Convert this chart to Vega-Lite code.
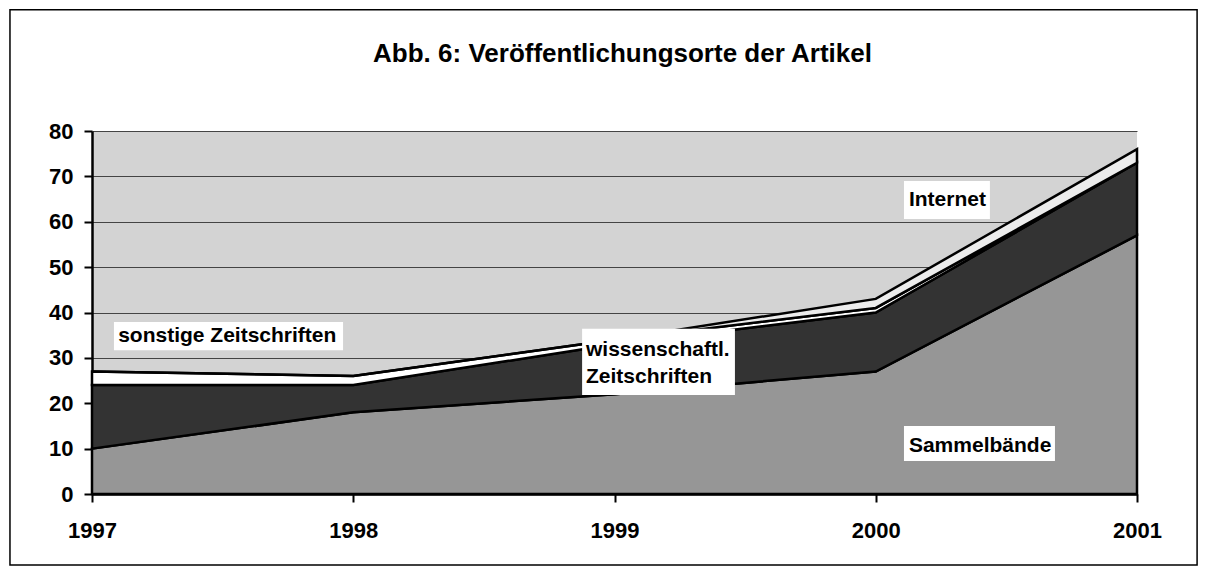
{
  "$schema": "https://vega.github.io/schema/vega-lite/v6.json",
  "width": 1045,
  "height": 363,
  "autosize": {"type": "none"},
  "padding": {"left": 92, "top": 131, "right": 70, "bottom": 81},
  "background": "white",
  "title": {
    "text": "Abb. 6: Veröffentlichungsorte der Artikel",
    "font": "Liberation Sans",
    "fontSize": 26,
    "fontWeight": "bold",
    "color": "black",
    "anchor": "middle",
    "frame": "group",
    "baseline": "alphabetic",
    "offset": -79,
    "dx": 8
  },
  "config": {
    "font": "Liberation Sans",
    "view": {"fill": "#d3d3d3", "stroke": null}
  },
  "datasets": {
    "pub": [
      {"year": 1997, "series": "Sammelbände", "ord": 1, "value": 10},
      {"year": 1998, "series": "Sammelbände", "ord": 1, "value": 18},
      {"year": 1999, "series": "Sammelbände", "ord": 1, "value": 22},
      {"year": 2000, "series": "Sammelbände", "ord": 1, "value": 27},
      {"year": 2001, "series": "Sammelbände", "ord": 1, "value": 57},
      {"year": 1997, "series": "wissenschaftl. Zeitschriften", "ord": 2, "value": 14},
      {"year": 1998, "series": "wissenschaftl. Zeitschriften", "ord": 2, "value": 6},
      {"year": 1999, "series": "wissenschaftl. Zeitschriften", "ord": 2, "value": 11},
      {"year": 2000, "series": "wissenschaftl. Zeitschriften", "ord": 2, "value": 13},
      {"year": 2001, "series": "wissenschaftl. Zeitschriften", "ord": 2, "value": 16},
      {"year": 1997, "series": "sonstige Zeitschriften", "ord": 3, "value": 3},
      {"year": 1998, "series": "sonstige Zeitschriften", "ord": 3, "value": 2},
      {"year": 1999, "series": "sonstige Zeitschriften", "ord": 3, "value": 1},
      {"year": 2000, "series": "sonstige Zeitschriften", "ord": 3, "value": 1},
      {"year": 2001, "series": "sonstige Zeitschriften", "ord": 3, "value": 0},
      {"year": 1997, "series": "Internet", "ord": 4, "value": 0},
      {"year": 1998, "series": "Internet", "ord": 4, "value": 0},
      {"year": 1999, "series": "Internet", "ord": 4, "value": 0},
      {"year": 2000, "series": "Internet", "ord": 4, "value": 2},
      {"year": 2001, "series": "Internet", "ord": 4, "value": 3}
    ]
  },
  "layer": [
    {
      "data": {"values": [{}]},
      "mark": {"type": "rect", "fill": null, "stroke": "black", "strokeWidth": 1.5},
      "encoding": {
        "x": {"datum": 1996.686, "type": "quantitative", "scale": {"domain": [1997, 2001], "nice": false, "zero": false}},
        "x2": {"datum": 2001.23},
        "y": {"datum": 106.7, "type": "quantitative", "scale": {"domain": [0, 80], "nice": false}},
        "y2": {"datum": -15.65}
      }
    },
    {
      "data": {"name": "pub"},
      "mark": {"type": "area", "stroke": "black", "strokeWidth": 2.5, "strokeJoin": "miter"},
      "encoding": {
        "x": {
          "field": "year",
          "type": "quantitative",
          "scale": {"domain": [1997, 2001], "nice": false, "zero": false},
          "axis": {
            "title": null,
            "values": [1997, 1998, 1999, 2000, 2001],
            "format": "d",
            "grid": false,
            "labelFontSize": 22,
            "labelFontWeight": "bold",
            "labelColor": "black",
            "labelPadding": 18,
            "labelFlush": false,
            "tickColor": "black",
            "tickSize": 8,
            "tickWidth": 2,
            "domainColor": "black",
            "domainWidth": 2.5
          }
        },
        "y": {
          "field": "value",
          "type": "quantitative",
          "stack": "zero",
          "scale": {"domain": [0, 80], "nice": false},
          "axis": {
            "title": null,
            "values": [0, 10, 20, 30, 40, 50, 60, 70, 80],
            "grid": true,
            "gridColor": "#444444",
            "gridWidth": 1,
            "labelFontSize": 22,
            "labelFontWeight": "bold",
            "labelColor": "black",
            "labelPadding": 11,
            "tickColor": "black",
            "tickSize": 8,
            "tickWidth": 2,
            "domainColor": "black",
            "domainWidth": 2.5
          }
        },
        "color": {
          "field": "series",
          "type": "nominal",
          "scale": {
            "domain": ["Sammelbände", "wissenschaftl. Zeitschriften", "sonstige Zeitschriften", "Internet"],
            "range": ["#969696", "#333333", "#ffffff", "#ececec"]
          },
          "legend": null
        },
        "order": {"field": "ord", "type": "quantitative"}
      }
    },
    {
      "data": {"values": [{}]},
      "mark": {"type": "rect", "fill": "white"},
      "encoding": {
        "x": {"datum": 1997.084, "type": "quantitative"},
        "x2": {"datum": 1997.961},
        "y": {"datum": 37.9, "type": "quantitative"},
        "y2": {"datum": 31.7}
      }
    },
    {
      "data": {"values": [{}]},
      "mark": {"type": "rect", "fill": "white"},
      "encoding": {
        "x": {"datum": 1998.876, "type": "quantitative"},
        "x2": {"datum": 1999.461},
        "y": {"datum": 36.4, "type": "quantitative"},
        "y2": {"datum": 21.8}
      }
    },
    {
      "data": {"values": [{}]},
      "mark": {"type": "rect", "fill": "white"},
      "encoding": {
        "x": {"datum": 2000.108, "type": "quantitative"},
        "x2": {"datum": 2000.437},
        "y": {"datum": 69.0, "type": "quantitative"},
        "y2": {"datum": 60.6}
      }
    },
    {
      "data": {"values": [{}]},
      "mark": {"type": "rect", "fill": "white"},
      "encoding": {
        "x": {"datum": 2000.108, "type": "quantitative"},
        "x2": {"datum": 2000.686},
        "y": {"datum": 15.0, "type": "quantitative"},
        "y2": {"datum": 7.3}
      }
    },
    {
      "data": {"values": [{}]},
      "mark": {"type": "text", "align": "left", "baseline": "middle", "fontSize": 21, "fontWeight": "bold", "color": "black", "text": "sonstige Zeitschriften"},
      "encoding": {
        "x": {"datum": 1997.1, "type": "quantitative"},
        "y": {"datum": 34.8, "type": "quantitative"}
      }
    },
    {
      "data": {"values": [{}]},
      "mark": {"type": "text", "align": "left", "baseline": "middle", "fontSize": 21, "fontWeight": "bold", "color": "black", "lineHeight": 27, "text": ["wissenschaftl.", "Zeitschriften"]},
      "encoding": {
        "x": {"datum": 1998.891, "type": "quantitative"},
        "y": {"datum": 31.7, "type": "quantitative"}
      }
    },
    {
      "data": {"values": [{}]},
      "mark": {"type": "text", "align": "left", "baseline": "middle", "fontSize": 21, "fontWeight": "bold", "color": "black", "text": "Internet"},
      "encoding": {
        "x": {"datum": 2000.127, "type": "quantitative"},
        "y": {"datum": 64.8, "type": "quantitative"}
      }
    },
    {
      "data": {"values": [{}]},
      "mark": {"type": "text", "align": "left", "baseline": "middle", "fontSize": 21, "fontWeight": "bold", "color": "black", "text": "Sammelbände"},
      "encoding": {
        "x": {"datum": 2000.127, "type": "quantitative"},
        "y": {"datum": 10.6, "type": "quantitative"}
      }
    }
  ]
}
